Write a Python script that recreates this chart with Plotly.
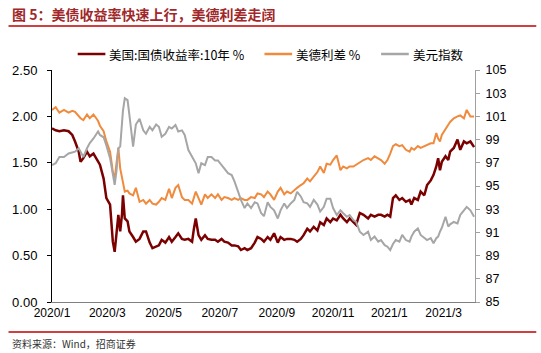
import pandas as pd
import plotly.graph_objects as go

# Days since 2020-01-01 for each sample
day_offset = [0, 4, 8, 13, 18, 22, 25, 29, 31, 34, 38, 41, 45, 48, 50, 52, 56, 59, 63, 65, 66, 68, 70, 72, 74, 76, 77, 79, 82, 84, 88, 91, 95, 99, 102, 106, 109, 113,
              116, 119, 123, 127, 130, 134, 137, 141, 144, 148, 152, 154, 156, 159, 162, 166, 169, 173, 177, 180, 184, 187, 191, 195, 198, 202, 205, 209, 212, 216, 220, 223, 227,
              230, 234, 237, 241, 245, 248, 252, 255, 259, 263, 266, 270, 273, 277, 280, 284, 288, 291, 295, 298, 302, 305, 309, 313, 316, 320, 323, 327, 330, 334, 338,
              343, 346, 350, 354, 357, 361, 364, 367, 370, 373, 377, 380, 384, 388, 390, 393, 397, 400, 404, 407, 411, 414, 417, 419, 421, 423, 427, 430, 432, 436, 440, 443, 447, 450, 454, 458]

us10y = [1.87, 1.85, 1.84, 1.85, 1.84, 1.80, 1.73, 1.62, 1.51, 1.55, 1.62, 1.57, 1.60, 1.55, 1.52, 1.48, 1.33, 1.12, 1.05, 0.83, 0.65, 0.54, 0.76, 0.94, 0.76, 0.95, 1.15, 0.90, 0.87, 0.76, 0.70, 0.65, 0.68, 0.76, 0.76, 0.64, 0.58, 0.60,
         0.61, 0.67, 0.64, 0.70, 0.65, 0.70, 0.74, 0.68, 0.67, 0.68, 0.65, 0.79, 0.90, 0.72, 0.67, 0.72, 0.68, 0.67, 0.67, 0.65, 0.68, 0.65, 0.64, 0.61, 0.61, 0.60, 0.56, 0.58, 0.56, 0.58, 0.64, 0.70, 0.68,
         0.65, 0.70, 0.67, 0.74, 0.64, 0.70, 0.67, 0.68, 0.68, 0.67, 0.65, 0.68, 0.72, 0.79, 0.76, 0.81, 0.77, 0.86, 0.83, 0.90, 0.86, 0.90, 0.88, 0.94, 0.90, 0.86, 0.90, 0.86, 0.83, 0.96, 0.94,
         0.90, 0.94, 0.92, 0.94, 0.94, 0.92, 0.94, 0.92, 1.12, 1.15, 1.10, 1.12, 1.08, 1.10, 1.05, 1.12, 1.10, 1.19, 1.15, 1.26, 1.31, 1.37, 1.46, 1.55, 1.42, 1.51, 1.57, 1.53, 1.62, 1.66, 1.75, 1.64, 1.73, 1.71, 1.73, 1.67]

us_de_spread = [2.07, 2.10, 2.04, 2.07, 2.04, 2.06, 2.05, 2.00, 1.98, 1.96, 2.02, 1.98, 2.02, 1.98, 1.95, 1.90, 1.84, 1.73, 1.62, 1.48, 1.40, 1.33, 1.51, 1.66, 1.44, 1.35, 1.30, 1.19, 1.20, 1.17, 1.15, 1.23, 1.08, 1.10, 1.06, 1.10, 1.06, 1.05,
                1.08, 1.12, 1.10, 1.22, 1.12, 1.23, 1.26, 1.13, 1.10, 1.10, 1.06, 1.12, 1.19, 1.12, 1.05, 1.16, 1.12, 1.16, 1.12, 1.16, 1.10, 1.13, 1.12, 1.10, 1.12, 1.10, 1.12, 1.10, 1.10, 1.13, 1.12, 1.17, 1.16,
                1.13, 1.19, 1.16, 1.10, 1.19, 1.23, 1.16, 1.19, 1.17, 1.21, 1.23, 1.26, 1.28, 1.33, 1.30, 1.35, 1.40, 1.46, 1.39, 1.49, 1.48, 1.53, 1.58, 1.42, 1.46, 1.44, 1.46, 1.46, 1.48, 1.51, 1.53,
                1.55, 1.53, 1.57, 1.55, 1.53, 1.49, 1.53, 1.60, 1.68, 1.70, 1.68, 1.69, 1.64, 1.62, 1.66, 1.64, 1.68, 1.66, 1.68, 1.69, 1.71, 1.71, 1.82, 1.76, 1.73, 1.80, 1.87, 1.91, 1.94, 1.98, 2.00, 2.01, 1.98, 2.07, 2.00, 2.00]

dxy = [96.8, 96.96, 97.5, 97.5, 97.8, 97.9, 97.96, 98.25, 97.9, 97.5, 98.25, 98.7, 99.1, 99.5, 99.7, 99.4, 99.2, 98.5, 97.4, 96.5, 95.95, 95.1, 96.3, 98.25, 98.4, 100.8, 101.5, 102.56, 102.4, 101.1, 98.4, 100.3, 100.8, 99.8, 99.5, 100.1, 99.8, 100.3,
       100.1, 99.25, 99.5, 100.1, 99.95, 100.26, 99.7, 99.8, 99.4, 98.1, 97.5, 97.2, 96.96, 96.1, 96.96, 96.8, 97.5, 97.5, 97.2, 97.2, 96.8, 96.6, 96.1, 95.95, 95.4, 94.5, 93.8, 93.1, 93.5, 93.1, 93.6, 93.5, 92.65,
       92.4, 93.6, 93.2, 92.9, 92.2, 92.9, 93.5, 93.1, 93.5, 93.8, 94.5, 94.1, 93.6, 93.5, 93.2, 93.8, 93.4, 92.8, 93.2, 93.9, 93.9, 93.1, 92.5, 92.9, 92.65, 92.35, 92.5, 92.07, 91.9, 91.06, 90.78,
       91.06, 90.34, 90.64, 90.2, 90.34, 89.9, 89.77, 89.48, 90.0, 90.34, 90.2, 90.78, 90.34, 90.2, 90.64, 91.06, 91.35, 90.78, 90.5, 90.34, 90.5, 90.06, 90.5, 90.64, 91.06, 91.4, 92.35, 91.5, 91.7, 91.9, 91.78, 92.5, 92.9, 93.2, 92.9, 92.35]

tick_dates = ["2020-01-01", "2020-03-01", "2020-05-01", "2020-07-01", "2020-09-01", "2020-11-01", "2021-01-01", "2021-03-01"]
tick_labels = ["2020/1", "2020/3", "2020/5", "2020/7", "2020/9", "2020/11", "2021/1", "2021/3"]

series_names = ["美国:国债收益率:10年 %", "美德利差 %", "美元指数"]
series_colors = ["#7B0000", "#F08A3C", "#A6A6A6"]

dates = pd.Timestamp("2020-01-01") + pd.to_timedelta(day_offset, unit="D")

CJK = "Noto Sans CJK SC"
LAT = "Liberation Sans, Arial"

fig = go.Figure()
fig.add_trace(go.Scatter(x=dates, y=dxy, name=series_names[2], yaxis="y2", mode="lines",
                         line=dict(color=series_colors[2], width=2)))
fig.add_trace(go.Scatter(x=dates, y=us_de_spread, name=series_names[1], mode="lines",
                         line=dict(color=series_colors[1], width=2)))
fig.add_trace(go.Scatter(x=dates, y=us10y, name=series_names[0], mode="lines",
                         line=dict(color=series_colors[0], width=2.5)))

W, H = 541, 353
L, R, T, B = 47, 475, 70, 302

def px(x):
    return (x - L) / (R - L)

def py(y):
    return (B - y) / (B - T)

shapes = [
    dict(type="line", xref="paper", yref="paper", x0=px(3), x1=px(537), y0=py(26), y1=py(26),
         line=dict(color="#C00000", width=1.5)),
    dict(type="line", xref="paper", yref="paper", x0=px(3), x1=px(537), y0=py(332), y1=py(332),
         line=dict(color="#C00000", width=1.5)),
]
annotations = [
    dict(text="<b>图 5：美债收益率快速上行，美德利差走阔</b>", xref="paper", yref="paper",
         x=px(4), y=py(14), xanchor="left", yanchor="middle", showarrow=False,
         font=dict(family=CJK, size=14, color="#A0282A")),
    dict(text="资料来源：Wind，招商证券", xref="paper", yref="paper",
         x=px(5), y=py(343), xanchor="left", yanchor="middle", showarrow=False,
         font=dict(family=CJK, size=10, color="#333333")),
]

# manual legend
legend_x = [73, 262, 380]
for name, color, lx in zip(series_names, series_colors, legend_x):
    shapes.append(dict(type="line", xref="paper", yref="paper", x0=px(lx), x1=px(lx + 28),
                       y0=py(54), y1=py(54), line=dict(color=color, width=2.5)))
    annotations.append(dict(text=name, xref="paper", yref="paper", x=px(lx + 30), y=py(54),
                            xanchor="left", yanchor="middle", showarrow=False,
                            font=dict(family=CJK, size=12.5, color="black")))

fig.update_layout(
    width=W, height=H,
    margin=dict(l=L, r=W - R, t=T, b=H - B),
    paper_bgcolor="white", plot_bgcolor="white",
    font=dict(family=LAT, size=12, color="black"),
    showlegend=False,
    xaxis=dict(type="date", range=["2020-01-01", "2021-04-04"],
               tickvals=tick_dates, ticktext=tick_labels, ticks="",
               showgrid=False, showline=True, linecolor="#808080", linewidth=1,
               tickfont=dict(family=LAT, size=12, color="black"), zeroline=False),
    yaxis=dict(range=[0, 2.5], dtick=0.5, tickformat=".2f", ticks="outside", ticklen=4,
               tickcolor="black", showline=True, linecolor="black", linewidth=1,
               showgrid=False, zeroline=False, ticklabelstandoff=7,
               tickfont=dict(family=LAT, size=13, color="black")),
    yaxis2=dict(range=[85, 105], tick0=85, dtick=2, overlaying="y", side="right", ticks="outside",
                ticklen=4, tickcolor="#A0A0A0", showline=True, linecolor="#A0A0A0", linewidth=1,
                showgrid=False, zeroline=False, ticklabelstandoff=3,
                tickfont=dict(family=LAT, size=12.5, color="black")),
    shapes=shapes,
    annotations=annotations,
)

fig.write_html("out.html")
